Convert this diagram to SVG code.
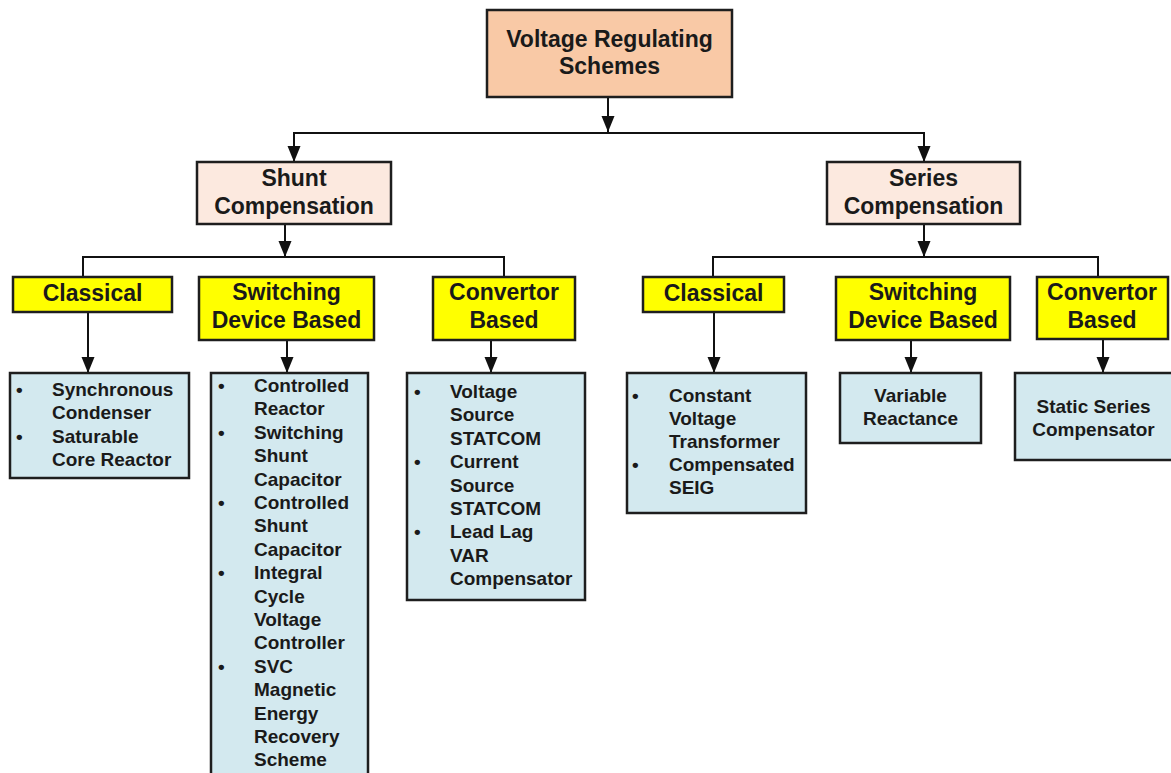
<svg xmlns="http://www.w3.org/2000/svg" width="1171" height="773" viewBox="0 0 1171 773">
<defs>
<marker id="arr" markerUnits="userSpaceOnUse" markerWidth="18" markerHeight="14" refX="16" refY="6.5" orient="auto">
<path d="M0,0 L16,6.5 L0,13 z" fill="#111"/>
</marker>
<style>
.box{stroke:#1e1e1e;stroke-width:2.5}
.root{fill:#f9c9a6}
.lvl1{fill:#fce9df}
.lvl2{fill:#ffff00}
.list{fill:#d3e9ef}
text{font-family:"Liberation Sans",Arial,sans-serif;font-weight:bold;fill:#1a1a1a}
.h{font-size:23px;text-anchor:middle}
.l{font-size:19px}
.c{font-size:19px;text-anchor:middle}
.conn path{fill:none;stroke:#111;stroke-width:2}
</style>
</defs>
<rect width="1171" height="773" fill="#fff"/>

<g class="conn" id="connectors">
<path d="M608,97 V132" marker-end="url(#arr)"/>
<path d="M608,133 H294 V162" marker-end="url(#arr)"/>
<path d="M608,133 H924 V162" marker-end="url(#arr)"/>
<path d="M285,224 V257" marker-end="url(#arr)"/>
<path d="M83,277 V257 H504 V277"/>
<path d="M924,224 V257" marker-end="url(#arr)"/>
<path d="M713,277 V257 H1098 V277"/>
<path d="M88,312 V373" marker-end="url(#arr)"/>
<path d="M287,340 V373" marker-end="url(#arr)"/>
<path d="M491,340 V373" marker-end="url(#arr)"/>
<path d="M714,312 V373" marker-end="url(#arr)"/>
<path d="M911,340 V373" marker-end="url(#arr)"/>
<path d="M1103,340 V373" marker-end="url(#arr)"/>
</g>

<g id="root">
<rect class="box root" x="487" y="10" width="245" height="87"/>
<text class="h" x="609.5" y="47">Voltage Regulating</text>
<text class="h" x="609.5" y="74">Schemes</text>
</g>

<g id="shunt">
<rect class="box lvl1" x="197" y="162" width="194" height="62"/>
<text class="h" x="294" y="186">Shunt</text>
<text class="h" x="294" y="214">Compensation</text>
</g>

<g id="series">
<rect class="box lvl1" x="827" y="162" width="193" height="62"/>
<text class="h" x="923.5" y="186">Series</text>
<text class="h" x="923.5" y="214">Compensation</text>
</g>

<g id="shunt-classical">
<rect class="box lvl2" x="13" y="277" width="159" height="35"/>
<text class="h" x="92.5" y="301">Classical</text>
</g>
<g id="shunt-switching">
<rect class="box lvl2" x="199" y="277" width="175" height="63"/>
<text class="h" x="286.5" y="300">Switching</text>
<text class="h" x="286.5" y="328">Device Based</text>
</g>
<g id="shunt-convertor">
<rect class="box lvl2" x="433" y="277" width="142" height="63"/>
<text class="h" x="504" y="300">Convertor</text>
<text class="h" x="504" y="328">Based</text>
</g>

<g id="series-classical">
<rect class="box lvl2" x="643" y="277" width="141" height="35"/>
<text class="h" x="713.5" y="301">Classical</text>
</g>
<g id="series-switching">
<rect class="box lvl2" x="836" y="277" width="174" height="63"/>
<text class="h" x="923" y="300">Switching</text>
<text class="h" x="923" y="328">Device Based</text>
</g>
<g id="series-convertor">
<rect class="box lvl2" x="1037" y="277" width="131" height="62"/>
<text class="h" x="1102" y="300">Convertor</text>
<text class="h" x="1102" y="328">Based</text>
</g>

<g id="list-shunt-classical">
<rect class="box list" x="10" y="373" width="179" height="105"/>
<text class="l" x="16" y="396">•</text>
<text class="l" x="52" y="396">Synchronous</text>
<text class="l" x="52" y="419">Condenser</text>
<text class="l" x="16" y="443">•</text>
<text class="l" x="52" y="443">Saturable</text>
<text class="l" x="52" y="466">Core Reactor</text>
</g>

<g id="list-shunt-switching">
<rect class="box list" x="211" y="373" width="157" height="420"/>
<text class="l" x="218" y="392">•</text>
<text class="l" x="254" y="392">Controlled</text>
<text class="l" x="254" y="415.4">Reactor</text>
<text class="l" x="218" y="438.8">•</text>
<text class="l" x="254" y="438.8">Switching</text>
<text class="l" x="254" y="462.2">Shunt</text>
<text class="l" x="254" y="485.6">Capacitor</text>
<text class="l" x="218" y="509">•</text>
<text class="l" x="254" y="509">Controlled</text>
<text class="l" x="254" y="532.4">Shunt</text>
<text class="l" x="254" y="555.8">Capacitor</text>
<text class="l" x="218" y="579.2">•</text>
<text class="l" x="254" y="579.2">Integral</text>
<text class="l" x="254" y="602.6">Cycle</text>
<text class="l" x="254" y="626">Voltage</text>
<text class="l" x="254" y="649.4">Controller</text>
<text class="l" x="218" y="672.8">•</text>
<text class="l" x="254" y="672.8">SVC</text>
<text class="l" x="254" y="696.2">Magnetic</text>
<text class="l" x="254" y="719.6">Energy</text>
<text class="l" x="254" y="743">Recovery</text>
<text class="l" x="254" y="766.4">Scheme</text>
</g>

<g id="list-shunt-convertor">
<rect class="box list" x="407" y="373" width="178" height="227"/>
<text class="l" x="414" y="398">•</text>
<text class="l" x="450" y="398">Voltage</text>
<text class="l" x="450" y="421.4">Source</text>
<text class="l" x="450" y="444.8">STATCOM</text>
<text class="l" x="414" y="468.2">•</text>
<text class="l" x="450" y="468.2">Current</text>
<text class="l" x="450" y="491.6">Source</text>
<text class="l" x="450" y="515">STATCOM</text>
<text class="l" x="414" y="538.4">•</text>
<text class="l" x="450" y="538.4">Lead Lag</text>
<text class="l" x="450" y="561.8">VAR</text>
<text class="l" x="450" y="585.2">Compensator</text>
</g>

<g id="list-series-classical">
<rect class="box list" x="627" y="373" width="179" height="140"/>
<text class="l" x="632" y="402">•</text>
<text class="l" x="669" y="402">Constant</text>
<text class="l" x="669" y="425">Voltage</text>
<text class="l" x="669" y="448">Transformer</text>
<text class="l" x="632" y="471">•</text>
<text class="l" x="669" y="471">Compensated</text>
<text class="l" x="669" y="494">SEIG</text>
</g>

<g id="list-series-switching">
<rect class="box list" x="840" y="373" width="141" height="70"/>
<text class="c" x="910.5" y="402">Variable</text>
<text class="c" x="910.5" y="425">Reactance</text>
</g>

<g id="list-series-convertor">
<rect class="box list" x="1015" y="373" width="170" height="87"/>
<text class="c" x="1093.5" y="413">Static Series</text>
<text class="c" x="1093.5" y="436">Compensator</text>
</g>
</svg>
